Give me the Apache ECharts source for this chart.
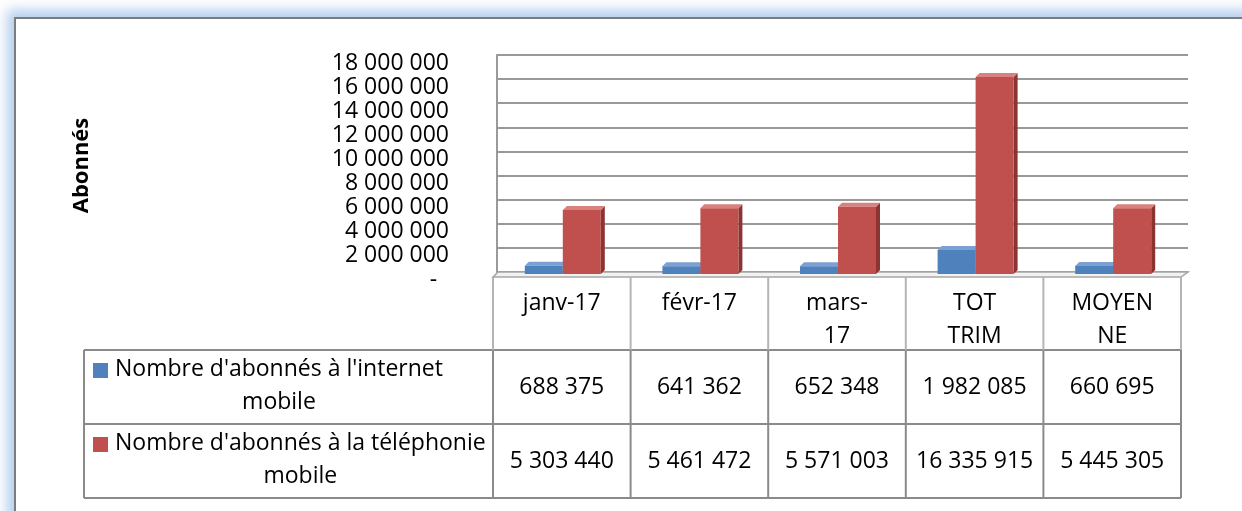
<!DOCTYPE html>
<html>
<head>
<meta charset="utf-8">
<script src="https://cdn.jsdelivr.net/npm/echarts@6/dist/echarts.min.js"></script>
<style>
html, body { margin: 0; padding: 0; background: #fff; }
.wrap { position: relative; width: 1242px; height: 511px; overflow: hidden; background: #fff; }
.frame {
  position: absolute; left: 14px; top: 17px; width: 1300px; height: 600px;
  border: 2px solid #7c7c7c; background: #fff;
  box-shadow: 0 0 12px 7px rgba(160, 192, 232, 0.8);
}
#chart { position: absolute; left: 0; top: 0; width: 1242px; height: 511px; }
</style>
</head>
<body>
<div class="wrap">
  <div class="frame"></div>
  <div id="chart"></div>
</div>
<script>
// data
var categories = ['janv-17', 'févr-17', 'mars-\n17', 'TOT\nTRIM', 'MOYEN\nNE'];
var seriesNames = ["Nombre d'abonnés à l'internet mobile", "Nombre d'abonnés à la téléphonie mobile"];
var internet = [688375, 641362, 652348, 1982085, 660695];
var telephonie = [5303440, 5461472, 5571003, 16335915, 5445305];
var yTicks = { min: 0, max: 18000000, interval: 2000000 };

// layout
var FONT = '"Open Sans", "Noto Sans", sans-serif';
var GL = 493, GR = 1181, G0 = 274, GT = 57;
var COL_W = (GR - GL) / categories.length;
var ROWS = [350, 424, 498];
var TABLE_L = 84;
var BAR_W = 38, DEPTH = 4;
var LINE = '#8a8a8a';

function spaced(v) {
  return String(v).replace(/\B(?=(\d{3})+(?!\d))/g, ' ');
}

function bar3d(offset, face, side, top) {
  return function (params, api) {
    var p = api.coord([api.value(0), api.value(1)]);
    var b = api.coord([api.value(0), 0]);
    var x = p[0] + offset, w = BAR_W, d = DEPTH;
    return {
      type: 'group',
      children: [
        { type: 'polygon', shape: { points: [[x + w, p[1]], [x + w + d, p[1] - d], [x + w + d, b[1] - d], [x + w, b[1]]] }, style: { fill: side } },
        { type: 'polygon', shape: { points: [[x, p[1]], [x + d, p[1] - d], [x + w + d, p[1] - d], [x + w, p[1]]] }, style: { fill: top } },
        { type: 'rect', shape: { x: x, y: p[1], width: w, height: b[1] - p[1] }, style: { fill: face } }
      ]
    };
  };
}

var measureCtx = document.createElement('canvas').getContext('2d');
measureCtx.font = '23px ' + FONT;

var graphics = [];
function hline(x1, x2, y, c) {
  graphics.push({ type: 'line', shape: { x1: x1, y1: y, x2: x2, y2: y }, style: { stroke: c || LINE, lineWidth: 2 }, z: 10 });
}
function vline(x, y1, y2, c) {
  graphics.push({ type: 'line', shape: { x1: x, y1: y1, x2: x, y2: y2 }, style: { stroke: c || LINE, lineWidth: 2 }, z: 10 });
}

// floor + table frame
graphics.push({ type: 'polygon', shape: { points: [[GL, 277], [GL + 5, 272], [GR + 7, 272], [GR, 277]] }, style: { fill: '#f2f2f2', stroke: '#a6a6a6', lineWidth: 1.5 }, z: 9 });
ROWS.forEach(function (y) { hline(TABLE_L, GR, y); });
vline(TABLE_L, ROWS[0], ROWS[2]);
for (var i = 0; i <= categories.length; i++) {
  var cx = GL + i * COL_W;
  vline(cx, 277, ROWS[0], '#b4b4b4');
  vline(cx, ROWS[0], ROWS[2]);
}

// table rows: legend key, name and values
var colors = ['#4f81bd', '#c0504d'];
var rowData = [internet, telephonie];
rowData.forEach(function (vals, r) {
  var top = ROWS[r];
  var name = seriesNames[r].replace(/ (\S+)$/, '\n$1');
  var w1 = measureCtx.measureText(name.split('\n')[0]).width;
  graphics.push({ type: 'rect', shape: { x: 93, y: top + 13, width: 15, height: 15 }, style: { fill: colors[r] }, z: 11 });
  graphics.push({
    type: 'text', x: 115 + w1 / 2, y: top + 3, z: 11,
    style: { text: name, font: '23px ' + FONT, fill: '#000', align: 'center', verticalAlign: 'top', lineHeight: 33 }
  });
  vals.forEach(function (v, i) {
    graphics.push({
      type: 'text', x: GL + (i + 0.5) * COL_W, y: top + 37, z: 11,
      style: { text: spaced(v), font: '23px ' + FONT, fill: '#000', align: 'center', verticalAlign: 'middle' }
    });
  });
});

var chart = echarts.init(document.getElementById('chart'));
var option = {
  animation: false,
  grid: [
    { left: GL, right: 1242 - GR, top: GT, bottom: 511 - G0 },
    { left: GL + 4, right: 1242 - GR - 7, top: GT - 2, bottom: 511 - G0 + 2 }
  ],
  xAxis: [
    {
      type: 'category', gridIndex: 0, data: categories,
      axisLine: { show: false }, axisTick: { show: false },
      axisLabel: { interval: 0, margin: 13, fontFamily: FONT, fontSize: 23, color: '#000', lineHeight: 33, verticalAlign: 'top' }
    },
    { type: 'category', gridIndex: 1, data: categories, show: false }
  ],
  yAxis: [
    {
      type: 'value', gridIndex: 0, min: yTicks.min, max: yTicks.max, interval: yTicks.interval,
      name: 'Abonnés', nameLocation: 'middle', nameGap: 400, nameRotate: 90,
      nameTextStyle: { fontFamily: FONT, fontSize: 22, fontWeight: 'bold', color: '#000' },
      axisLine: { show: false }, axisTick: { show: false }, splitLine: { show: false },
      axisLabel: {
        margin: 44, fontFamily: FONT, fontSize: 23, color: '#000',
        verticalAlign: 'top', lineHeight: 12,
        formatter: function (v) { return v === 0 ? '-  ' : spaced(v); }
      }
    },
    {
      type: 'value', gridIndex: 1, min: yTicks.min, max: yTicks.max, interval: yTicks.interval,
      axisLine: { show: true, lineStyle: { color: '#9a9a9a', width: 2 } },
      axisTick: { show: false }, axisLabel: { show: false },
      splitLine: { lineStyle: { color: '#999999', width: 2 } }
    }
  ],
  series: [
    {
      name: seriesNames[0], type: 'custom', xAxisIndex: 0, yAxisIndex: 0, z: 12,
      renderItem: bar3d(-37, '#4f81bd', '#375d8c', '#7ba0d1'),
      data: internet.map(function (v, i) { return [i, v]; })
    },
    {
      name: seriesNames[1], type: 'custom', xAxisIndex: 0, yAxisIndex: 0, z: 13,
      renderItem: bar3d(1, '#c0504d', '#8a3532', '#d9817e'),
      data: telephonie.map(function (v, i) { return [i, v]; })
    }
  ],
  graphic: graphics
};
chart.setOption(option);
</script>
</body>
</html>
